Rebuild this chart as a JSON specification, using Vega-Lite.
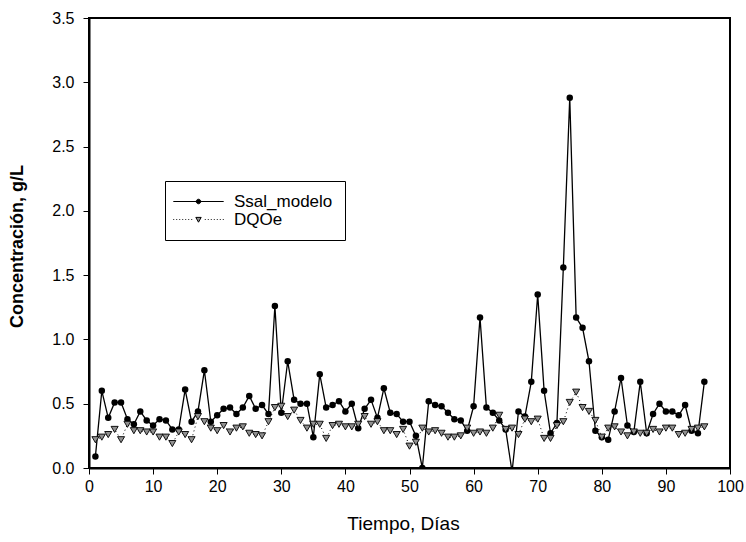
{
  "$schema": "https://vega.github.io/schema/vega-lite/v6.json",
  "width": 641,
  "height": 450,
  "autosize": "none",
  "padding": {"left": 89, "top": 18, "right": 16, "bottom": 74},
  "background": "white",
  "config": {
    "font": "Liberation Sans",
    "view": {"stroke": "black", "strokeWidth": 2},
    "axis": {
      "grid": false,
      "domainColor": "black",
      "domainWidth": 2,
      "tickColor": "black",
      "tickWidth": 1,
      "tickSize": 6,
      "labelColor": "black",
      "labelFont": "Liberation Sans",
      "labelFontSize": 16,
      "labelFlush": false,
      "labelOverlap": false,
      "titleColor": "black",
      "titleFont": "Liberation Sans"
    }
  },
  "datasets": {
    "ssal": [
      {"d":1,"v":0.09},{"d":2,"v":0.60},{"d":3,"v":0.39},{"d":4,"v":0.51},{"d":5,"v":0.51},{"d":6,"v":0.38},{"d":7,"v":0.34},{"d":8,"v":0.44},{"d":9,"v":0.37},{"d":10,"v":0.33},
      {"d":11,"v":0.38},{"d":12,"v":0.37},{"d":13,"v":0.30},{"d":14,"v":0.30},{"d":15,"v":0.61},{"d":16,"v":0.36},{"d":17,"v":0.44},{"d":18,"v":0.76},{"d":19,"v":0.36},{"d":20,"v":0.41},
      {"d":21,"v":0.46},{"d":22,"v":0.47},{"d":23,"v":0.42},{"d":24,"v":0.47},{"d":25,"v":0.56},{"d":26,"v":0.46},{"d":27,"v":0.49},{"d":28,"v":0.42},{"d":29,"v":1.26},{"d":30,"v":0.43},
      {"d":31,"v":0.83},{"d":32,"v":0.53},{"d":33,"v":0.50},{"d":34,"v":0.50},{"d":35,"v":0.24},{"d":36,"v":0.73},{"d":37,"v":0.47},{"d":38,"v":0.49},{"d":39,"v":0.52},{"d":40,"v":0.44},
      {"d":41,"v":0.50},{"d":42,"v":0.31},{"d":43,"v":0.46},{"d":44,"v":0.53},{"d":45,"v":0.39},{"d":46,"v":0.62},{"d":47,"v":0.43},{"d":48,"v":0.42},{"d":49,"v":0.36},{"d":50,"v":0.36},
      {"d":51,"v":0.25},{"d":52,"v":0.00},{"d":53,"v":0.52},{"d":54,"v":0.49},{"d":55,"v":0.48},{"d":56,"v":0.43},{"d":57,"v":0.38},{"d":58,"v":0.37},{"d":59,"v":0.29},{"d":60,"v":0.48},
      {"d":61,"v":1.17},{"d":62,"v":0.47},{"d":63,"v":0.43},{"d":64,"v":0.37},{"d":65,"v":0.30},{"d":66,"v":-0.03},{"d":67,"v":0.44},{"d":68,"v":0.40},{"d":69,"v":0.67},{"d":70,"v":1.35},
      {"d":71,"v":0.60},{"d":72,"v":0.27},{"d":73,"v":0.35},{"d":74,"v":1.56},{"d":75,"v":2.88},{"d":76,"v":1.17},{"d":77,"v":1.09},{"d":78,"v":0.83},{"d":79,"v":0.29},{"d":80,"v":0.24},
      {"d":81,"v":0.22},{"d":82,"v":0.44},{"d":83,"v":0.70},{"d":84,"v":0.33},{"d":85,"v":0.28},{"d":86,"v":0.67},{"d":87,"v":0.27},{"d":88,"v":0.42},{"d":89,"v":0.50},{"d":90,"v":0.44},
      {"d":91,"v":0.44},{"d":92,"v":0.41},{"d":93,"v":0.49},{"d":94,"v":0.29},{"d":95,"v":0.27},{"d":96,"v":0.67}
    ],
    "dqo": [
      {"d":1,"v":0.22},{"d":2,"v":0.24},{"d":3,"v":0.26},{"d":4,"v":0.30},{"d":5,"v":0.22},{"d":6,"v":0.34},{"d":7,"v":0.29},{"d":8,"v":0.29},{"d":9,"v":0.28},{"d":10,"v":0.28},
      {"d":11,"v":0.24},{"d":12,"v":0.24},{"d":13,"v":0.19},{"d":14,"v":0.28},{"d":15,"v":0.26},{"d":16,"v":0.22},{"d":17,"v":0.40},{"d":18,"v":0.36},{"d":19,"v":0.31},{"d":20,"v":0.29},
      {"d":21,"v":0.33},{"d":22,"v":0.28},{"d":23,"v":0.31},{"d":24,"v":0.32},{"d":25,"v":0.27},{"d":26,"v":0.26},{"d":27,"v":0.25},{"d":28,"v":0.36},{"d":29,"v":0.47},{"d":30,"v":0.48},
      {"d":31,"v":0.40},{"d":32,"v":0.45},{"d":33,"v":0.37},{"d":34,"v":0.31},{"d":35,"v":0.34},{"d":36,"v":0.34},{"d":37,"v":0.23},{"d":38,"v":0.33},{"d":39,"v":0.34},{"d":40,"v":0.32},
      {"d":41,"v":0.32},{"d":42,"v":0.34},{"d":43,"v":0.40},{"d":44,"v":0.34},{"d":45,"v":0.36},{"d":46,"v":0.29},{"d":47,"v":0.29},{"d":48,"v":0.26},{"d":49,"v":0.30},{"d":50,"v":0.17},
      {"d":51,"v":0.20},{"d":52,"v":0.31},{"d":53,"v":0.28},{"d":54,"v":0.29},{"d":55,"v":0.27},{"d":56,"v":0.24},{"d":57,"v":0.24},{"d":58,"v":0.25},{"d":59,"v":0.31},{"d":60,"v":0.27},
      {"d":61,"v":0.28},{"d":62,"v":0.27},{"d":63,"v":0.31},{"d":64,"v":0.41},{"d":65,"v":0.30},{"d":66,"v":0.31},{"d":67,"v":0.26},{"d":68,"v":0.38},{"d":69,"v":0.36},{"d":70,"v":0.38},
      {"d":71,"v":0.23},{"d":72,"v":0.23},{"d":73,"v":0.33},{"d":74,"v":0.36},{"d":75,"v":0.51},{"d":76,"v":0.59},{"d":77,"v":0.47},{"d":78,"v":0.44},{"d":79,"v":0.37},{"d":80,"v":0.24},
      {"d":81,"v":0.31},{"d":82,"v":0.32},{"d":83,"v":0.28},{"d":84,"v":0.25},{"d":85,"v":0.28},{"d":86,"v":0.27},{"d":87,"v":0.27},{"d":88,"v":0.30},{"d":89,"v":0.28},{"d":90,"v":0.31},
      {"d":91,"v":0.31},{"d":92,"v":0.26},{"d":93,"v":0.27},{"d":94,"v":0.30},{"d":95,"v":0.31},{"d":96,"v":0.32}
    ]
  },
  "encoding": {
    "x": {
      "field": "d",
      "type": "quantitative",
      "scale": {"domain": [0, 100], "nice": false, "zero": false},
      "axis": {
        "values": [0, 10, 20, 30, 40, 50, 60, 70, 80, 90, 100],
        "labelPadding": 4,
        "title": "Tiempo, Días",
        "titleFontSize": 19,
        "titleFontWeight": "normal",
        "titleBaseline": "middle",
        "titleY": 55,
        "titleX": 314
      }
    },
    "y": {
      "field": "v",
      "type": "quantitative",
      "scale": {"domain": [0, 3.5], "nice": false, "zero": false},
      "axis": {
        "values": [0, 0.5, 1, 1.5, 2, 2.5, 3, 3.5],
        "format": ".1f",
        "labelPadding": 9,
        "title": "Concentración, g/L",
        "titleFontSize": 18,
        "titleFontWeight": "bold",
        "titleAngle": 270,
        "titleBaseline": "middle",
        "titleAlign": "center",
        "titleX": -72,
        "titleY": 228
      }
    }
  },
  "layer": [
    {
      "data": {"name": "ssal"},
      "mark": {"type": "line", "color": "black", "strokeWidth": 1.3, "clip": true}
    },
    {
      "data": {"name": "ssal"},
      "mark": {"type": "point", "shape": "circle", "filled": true, "color": "black", "opacity": 1, "size": 42, "clip": true}
    },
    {
      "data": {"name": "dqo"},
      "mark": {"type": "line", "color": "black", "strokeWidth": 1, "strokeDash": [1, 3], "clip": true}
    },
    {
      "data": {"name": "dqo"},
      "mark": {"type": "point", "shape": "triangle-down", "filled": true, "fill": "#909090", "stroke": "black", "strokeWidth": 0.9, "opacity": 1, "size": 50, "clip": true}
    },
    {
      "data": {"name": "ssal"},
      "transform": [{"filter": "false"}],
      "mark": {"type": "point", "filled": true, "stroke": "black", "strokeWidth": 1, "opacity": 1},
      "encoding": {
        "color": {
          "field": "series",
          "type": "nominal",
          "scale": {"domain": ["Ssal_modelo", "DQOe"], "range": ["black", "#909090"]},
          "legend": {
            "orient": "none", "legendX": 76, "legendY": 163, "title": null,
            "symbolSize": 144, "symbolOffset": 13, "labelOffset": 27,
            "labelFont": "Liberation Sans", "labelFontSize": 17, "labelColor": "black",
            "padding": 12, "rowPadding": 0, "strokeColor": "black", "fillColor": "white",
            "symbolStrokeWidth": 1
          }
        },
        "shape": {
          "field": "series",
          "type": "nominal",
          "scale": {
            "domain": ["Ssal_modelo", "DQOe"],
            "range": [
              "M-4.2,0H4.2M-0.38,0A0.38,0.38 0 1,0 0.38,0A0.38,0.38 0 1,0 -0.38,0Z",
              "M-4.2,0h0.15M-3.7,0h0.15M-3.2,0h0.15M-2.7,0h0.15M-2.2,0h0.15M-1.7,0h0.15M-1.2,0h0.15M1.05,0h0.15M1.55,0h0.15M2.05,0h0.15M2.55,0h0.15M3.05,0h0.15M3.55,0h0.15M4.05,0h0.15M-0.45,-0.35L0.45,-0.35L0,0.45Z"
            ]
          },
          "legend": {
            "orient": "none", "legendX": 76, "legendY": 163, "title": null,
            "symbolSize": 144, "symbolOffset": 13, "labelOffset": 27,
            "labelFont": "Liberation Sans", "labelFontSize": 17, "labelColor": "black",
            "padding": 12, "rowPadding": 0, "strokeColor": "black", "fillColor": "white",
            "symbolStrokeWidth": 1
          }
        }
      }
    }
  ]
}
